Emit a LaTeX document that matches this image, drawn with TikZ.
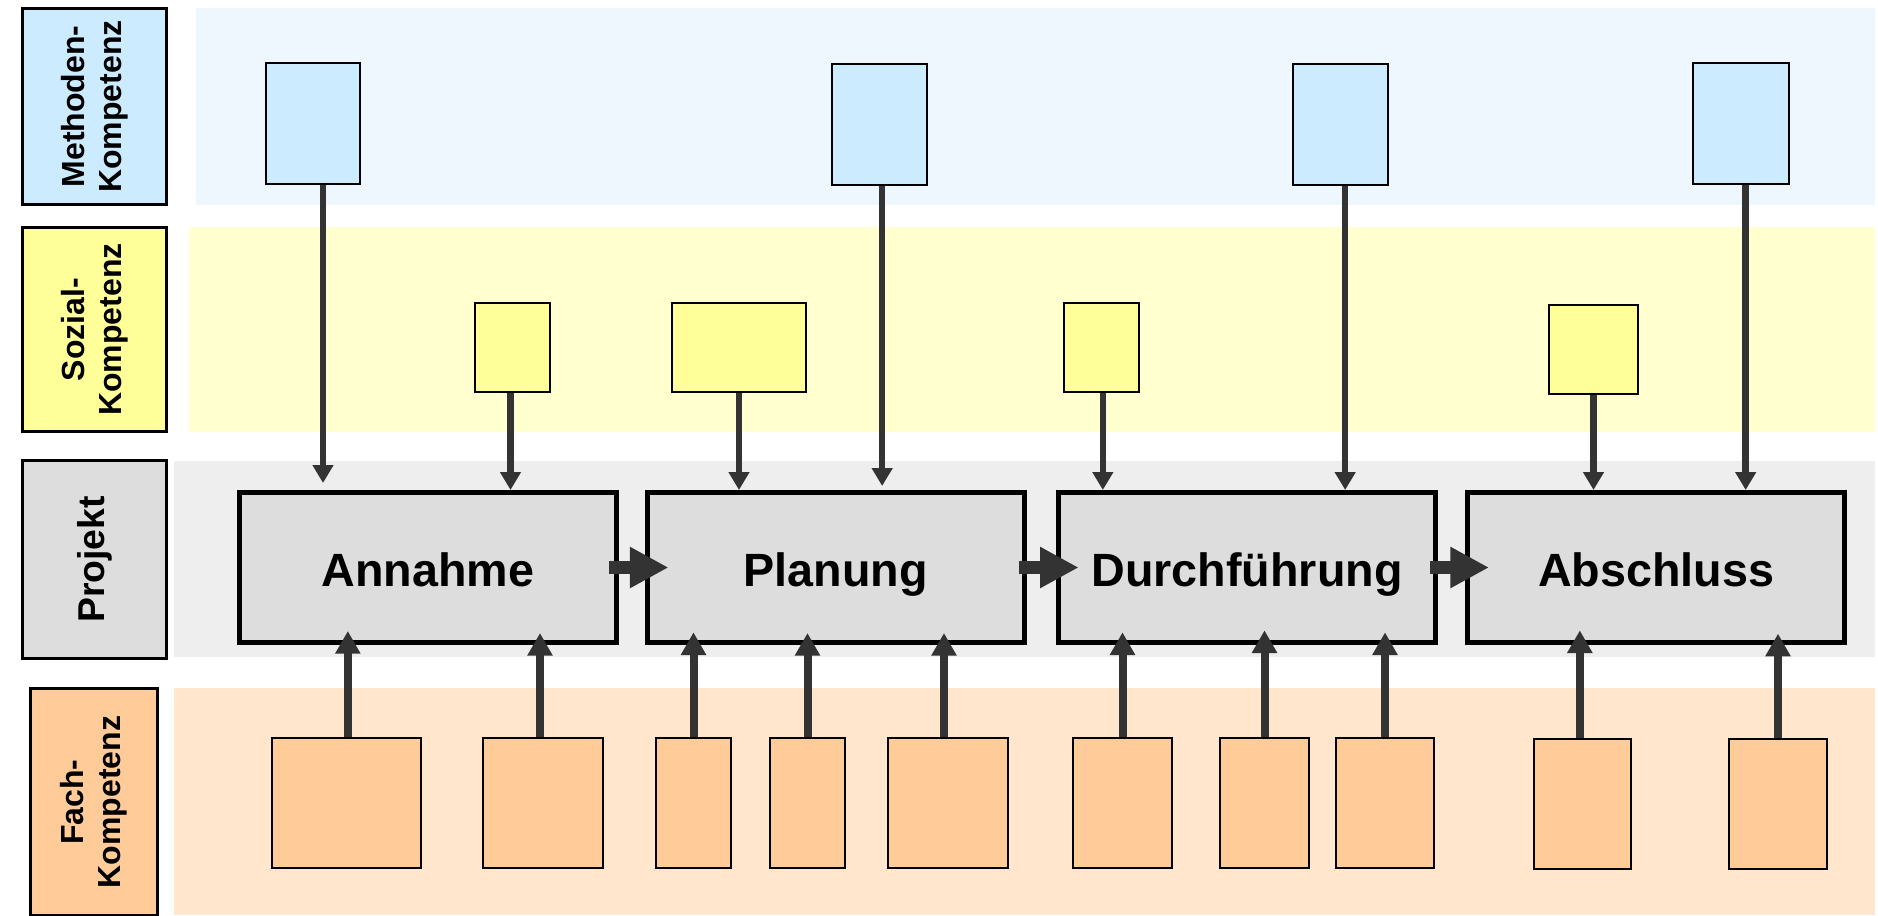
\documentclass[tikz,border=0pt]{standalone}
\usepackage{fontspec}
\setmainfont{Liberation Sans}
\usetikzlibrary{arrows.meta}

\definecolor{methband}{RGB}{239,247,254}
\definecolor{methfill}{RGB}{204,235,255}
\definecolor{sozband}{RGB}{255,255,208}
\definecolor{sozfill}{RGB}{255,255,153}
\definecolor{projband}{RGB}{238,238,238}
\definecolor{projfill}{RGB}{221,221,221}
\definecolor{fachband}{RGB}{255,230,204}
\definecolor{fachfill}{RGB}{255,204,153}
\definecolor{arrowgrey}{RGB}{51,51,51}

\tikzset{
  lane/.style={draw=black, line width=2.6pt, rotate=90, inner sep=0pt, align=center,
    font=\bfseries\fontsize{24}{27.75}\selectfont},
  phase/.style={draw=black, line width=3.75pt, fill=projfill, inner sep=0pt,
    minimum width=282.75pt, minimum height=112.5pt, text height=28.5pt, text depth=0pt,
    font=\bfseries\fontsize{35}{40}\selectfont},
  card/.style={draw=black, line width=1.5pt, inner sep=0pt},
  cardsize/.style 2 args={minimum width=#1*0.75pt-1.5pt, minimum height=#2*0.75pt-1.5pt},
  downarr/.style={draw=arrowgrey, line width=4.9pt, -{Triangle[width=15pt,length=13.5pt]}},
  uparr/.style={draw=arrowgrey, line width=6pt, -{Triangle[width=18pt,length=17pt]}},
  nextarr/.style={draw=arrowgrey, line width=9.75pt, -{Triangle[width=29pt,length=29pt]}},
}

\begin{document}
\begin{tikzpicture}[x=0.75pt,y=0.75pt,yscale=-1,xscale=1]
\useasboundingbox (0,0) rectangle (1878,915);

%Bands
\fill [methband] (196,8) rectangle (1875,205);
\fill [sozband] (189,227) rectangle (1875,432);
\fill [projband] (174,461) rectangle (1875,657);
\fill [fachband] (174,688) rectangle (1875,915);

%Lane labels
\node [lane, fill=methfill, minimum width=199*0.75pt-2.6pt, minimum height=147*0.75pt-2.6pt] (lmeth) at (94.5,106.5) {Methoden-\\Kompetenz};
\node [lane, fill=sozfill, minimum width=207*0.75pt-2.6pt, minimum height=147*0.75pt-2.6pt] (lsoz) at (94.5,329.5) {Sozial-\\Kompetenz};
\node [lane, fill=projfill, minimum width=201*0.75pt-2.6pt, minimum height=147*0.75pt-2.6pt, font=\bfseries\fontsize{28}{32}\selectfont] (lproj) at (94.5,559.5) {Projekt};
\node [lane, fill=fachfill, minimum width=230*0.75pt-2.6pt, minimum height=130*0.75pt-2.6pt] (lfach) at (94,802) {Fach-\\Kompetenz};

%Phases
\node [phase] (annahme) at (428,567.5) {Annahme};
\node [phase] (planung) at (835.5,567.5) {Planung};
\node [phase] (durch) at (1247,567.5) {Durchführung};
\node [phase] (abschluss) at (1656,567.5) {Abschluss};

%Methoden cards
\node [card, fill=methfill, cardsize={96}{123}] (m1) at (313,123.5) {};
\node [card, fill=methfill, cardsize={97}{123}] (m2) at (879.5,124) {};
\node [card, fill=methfill, cardsize={97}{123}] (m3) at (1340.5,124) {};
\node [card, fill=methfill, cardsize={98}{123}] (m4) at (1741,123.5) {};

%Sozial cards
\node [card, fill=sozfill, cardsize={77}{91}] (s1) at (512.5,347.5) {};
\node [card, fill=sozfill, cardsize={136}{91}] (s2) at (739,347.5) {};
\node [card, fill=sozfill, cardsize={77}{91}] (s3) at (1101.5,347.5) {};
\node [card, fill=sozfill, cardsize={91}{91}] (s4) at (1593.5,349.5) {};

%Fach cards
\node [card, fill=fachfill, cardsize={151}{132}] (f1) at (346.5,803) {};
\node [card, fill=fachfill, cardsize={122}{132}] (f2) at (543,803) {};
\node [card, fill=fachfill, cardsize={77}{132}] (f3) at (693.5,803) {};
\node [card, fill=fachfill, cardsize={77}{132}] (f4) at (807.5,803) {};
\node [card, fill=fachfill, cardsize={122}{132}] (f5) at (948,803) {};
\node [card, fill=fachfill, cardsize={101}{132}] (f6) at (1122.5,802.5) {};
\node [card, fill=fachfill, cardsize={91}{132}] (f7) at (1264.5,802.5) {};
\node [card, fill=fachfill, cardsize={100}{132}] (f8) at (1385,803) {};
\node [card, fill=fachfill, cardsize={99}{132}] (f9) at (1582.5,804) {};
\node [card, fill=fachfill, cardsize={100}{132}] (f10) at (1778,804) {};

%Methoden arrows
\draw [downarr, shorten >=5.25pt] ([xshift=7.5pt]m1.south) -- ([xshift=7.5pt]m1.south |- annahme.north);
\draw [downarr, shorten >=3pt] ([xshift=2pt]m2.south) -- ([xshift=2pt]m2.south |- planung.north);
\draw [downarr] ([xshift=3.5pt]m3.south) -- ([xshift=3.5pt]m3.south |- durch.north);
\draw [downarr] ([xshift=3.5pt]m4.south) -- ([xshift=3.5pt]m4.south |- abschluss.north);

%Sozial arrows
\draw [downarr] ([xshift=-1.5pt]s1.south) -- ([xshift=-1.5pt]s1.south |- annahme.north);
\draw [downarr] (s2.south) -- (s2.south |- planung.north);
\draw [downarr] ([xshift=1pt]s3.south) -- ([xshift=1pt]s3.south |- durch.north);
\draw [downarr] (s4.south) -- (s4.south |- abschluss.north);

%Fach arrows
\draw [uparr, shorten >=-10.5pt] ([xshift=1pt]f1.north) -- ([xshift=1pt]f1.north |- annahme.south);
\draw [uparr, shorten >=-9pt] ([xshift=-2.25pt]f2.north) -- ([xshift=-2.25pt]f2.north |- annahme.south);
\draw [uparr, shorten >=-9.5pt] (f3.north) -- (f3.north |- planung.south);
\draw [uparr, shorten >=-9pt] (f4.north) -- (f4.north |- planung.south);
\draw [uparr, shorten >=-9pt] ([xshift=-3pt]f5.north) -- ([xshift=-3pt]f5.north |- planung.south);
\draw [uparr, shorten >=-9.5pt] (f6.north) -- (f6.north |- durch.south);
\draw [uparr, shorten >=-11pt] (f7.north) -- (f7.north |- durch.south);
\draw [uparr, shorten >=-9.5pt] (f8.north) -- (f8.north |- durch.south);
\draw [uparr, shorten >=-11pt] ([xshift=-2pt]f9.north) -- ([xshift=-2pt]f9.north |- abschluss.south);
\draw [uparr, shorten >=-8.5pt] (f10.north) -- (f10.north |- abschluss.south);

%Phase arrows
\draw [nextarr] ([xshift=-7.5pt]annahme.east) -- ([xshift=18pt]planung.west);
\draw [nextarr] ([xshift=-6pt]planung.east) -- ([xshift=17pt]durch.west);
\draw [nextarr] ([xshift=-6pt]durch.east) -- ([xshift=18pt]abschluss.west);

\end{tikzpicture}
\end{document}
